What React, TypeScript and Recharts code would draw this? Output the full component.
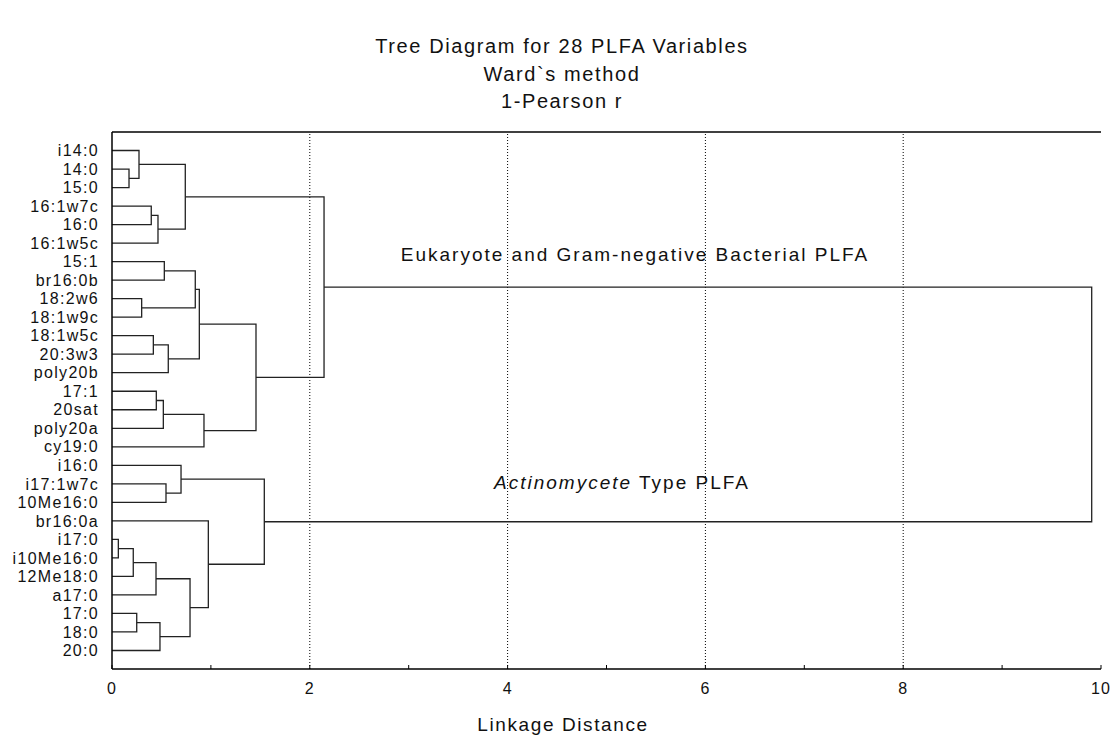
import { ComposedChart, Line, XAxis, YAxis, ReferenceLine } from 'recharts'

// leaf order top to bottom, as drawn on the left axis
const leaves = [
  'i14:0', '14:0', '15:0', '16:1w7c', '16:0', '16:1w5c', '15:1', 'br16:0b',
  '18:2w6', '18:1w9c', '18:1w5c', '20:3w3', 'poly20b', '17:1', '20sat',
  'poly20a', 'cy19:0', 'i16:0', 'i17:1w7c', '10Me16:0', 'br16:0a', 'i17:0',
  'i10Me16:0', '12Me18:0', 'a17:0', '17:0', '18:0', '20:0',
]

// [child a, child b, linkage distance]; ids from 28 up refer to earlier merges
const merges: [number, number, number][] = [
  [21, 22, 0.064], // 28
  [1, 2, 0.172], // 29
  [28, 23, 0.215], // 30
  [25, 26, 0.25], // 31
  [0, 29, 0.273], // 32
  [8, 9, 0.3], // 33
  [3, 4, 0.397], // 34
  [10, 11, 0.418], // 35
  [30, 24, 0.445], // 36
  [13, 14, 0.448], // 37
  [34, 5, 0.465], // 38
  [31, 27, 0.485], // 39
  [37, 15, 0.519], // 40
  [6, 7, 0.529], // 41
  [18, 19, 0.546], // 42
  [35, 12, 0.569], // 43
  [17, 42, 0.698], // 44
  [32, 38, 0.741], // 45
  [36, 39, 0.789], // 46
  [41, 33, 0.842], // 47
  [47, 43, 0.883], // 48
  [40, 16, 0.93], // 49
  [20, 46, 0.974], // 50
  [48, 49, 1.456], // 51
  [44, 50, 1.54], // 52
  [45, 51, 2.144], // 53
  [53, 52, 9.906], // 54
]

const xTicks = [0, 1, 2, 3, 4, 5, 6, 7, 8, 9, 10]
const gridLines = [2, 4, 6, 8]
const titleLines = ['Tree Diagram for 28 PLFA Variables', 'Ward`s method', '1-Pearson r']

const FONT = "'Liberation Sans', Arial, sans-serif"

type Pt = { x: number; y: number }

function buildLinks(): Pt[][] {
  const pos: Pt[] = leaves.map((_, i) => ({ x: 0, y: i }))
  return merges.map(([a, b, h]) => {
    const pa = pos[a]
    const pb = pos[b]
    pos.push({ x: h, y: (pa.y + pb.y) / 2 })
    return [
      { x: pa.x, y: pa.y },
      { x: h, y: pa.y },
      { x: h, y: pb.y },
      { x: pb.x, y: pb.y },
    ]
  })
}

const links = buildLinks()
const rowTicks = leaves.map((_, i) => i)

function BottomTick(props: any) {
  const { x, y, payload } = props
  const v = payload.value as number
  const axisY = y - 13
  return (
    <g>
      <line x1={x} x2={x} y1={axisY} y2={axisY - 4} stroke="#000" strokeWidth={1} />
      {v % 2 === 0 && (
        <text
          x={x}
          y={y}
          dy={12}
          textAnchor="middle"
          fontSize={16}
          fontFamily={FONT}
          letterSpacing={1}
          fill="#111"
        >
          {v}
        </text>
      )}
    </g>
  )
}

const textStyle = {
  position: 'absolute' as const,
  whiteSpace: 'nowrap' as const,
  fontFamily: FONT,
  color: '#111',
  lineHeight: 1,
  transform: 'translateX(-50%)',
}

export default function App() {
  return (
    <div style={{ position: 'absolute', left: 0, top: 0, width: 1113, height: 740, background: '#fff' }}>
      <ComposedChart
        width={1113}
        height={740}
        margin={{ top: 132, right: 12, left: 0, bottom: 41 }}
      >
        <XAxis
          xAxisId="main"
          dataKey="x"
          type="number"
          domain={[0, 10]}
          ticks={xTicks}
          allowDataOverflow
          height={30}
          tickSize={0}
          tickMargin={13}
          tickLine={false}
          axisLine={{ stroke: '#000', strokeWidth: 1.5 }}
          tick={<BottomTick />}
        />
        <YAxis
          yAxisId="left"
          type="number"
          domain={[-1, 28]}
          reversed
          allowDataOverflow
          ticks={rowTicks}
          interval={0}
          width={112}
          tickSize={0}
          tickMargin={13}
          tickLine={false}
          axisLine={{ stroke: '#000', strokeWidth: 1.5 }}
          tickFormatter={(i: number) => leaves[i] ?? ''}
          tick={{ fontSize: 16, fill: '#111', fontFamily: FONT, letterSpacing: 1.3 }}
        />
        <YAxis
          yAxisId="right"
          orientation="right"
          type="number"
          domain={[-1, 28]}
          reversed
          allowDataOverflow
          ticks={rowTicks}
          interval={0}
          width={0}
          mirror
          tickSize={3}
          tickLine={{ stroke: '#000' }}
          axisLine={{ stroke: '#000', strokeWidth: 1.5 }}
          tickFormatter={() => ''}
        />
        {gridLines.map((g) => (
          <ReferenceLine
            key={g}
            x={g}
            xAxisId="main"
            yAxisId="left"
            stroke="#000"
            strokeWidth={1}
            strokeDasharray="1 2"
          />
        ))}
        <ReferenceLine y={-1} xAxisId="main" yAxisId="left" stroke="#000" strokeWidth={1.5} />
        {links.map((pts, i) => (
          <Line
            key={i}
            data={pts}
            dataKey="y"
            xAxisId="main"
            yAxisId="left"
            type="linear"
            stroke="#222"
            strokeWidth={1.3}
            dot={false}
            activeDot={false}
            isAnimationActive={false}
          />
        ))}
      </ComposedChart>

      {titleLines.map((t, i) => (
        <div key={t} style={{ ...textStyle, left: 562, top: 36 + i * 27.5, fontSize: 20, letterSpacing: 1.6 }}>
          {t}
        </div>
      ))}
      <div style={{ ...textStyle, left: 635, top: 245, fontSize: 19, letterSpacing: 2 }}>
        Eukaryote and Gram-negative Bacterial PLFA
      </div>
      <div style={{ ...textStyle, left: 622, top: 473, fontSize: 19, letterSpacing: 2 }}>
        <i>Actinomycete</i> Type PLFA
      </div>
      <div style={{ ...textStyle, left: 563, top: 715, fontSize: 19, letterSpacing: 1.6 }}>
        Linkage Distance
      </div>
    </div>
  )
}
